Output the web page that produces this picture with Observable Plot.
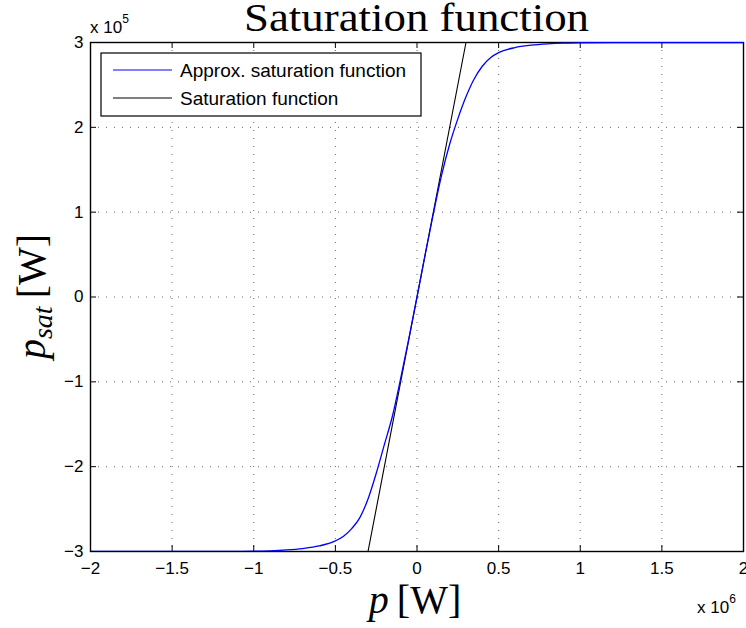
<!DOCTYPE html>
<html>
<head>
<meta charset="utf-8">
<script src="https://cdn.jsdelivr.net/npm/d3@7"></script>
<script src="https://cdn.jsdelivr.net/npm/@observablehq/plot@0.6"></script>
<style>
  html, body { margin: 0; padding: 0; background: #fff; }
  #chart svg { display: block; }
</style>
</head>
<body>
<div id="chart"></div>
<script>
// p in units of 10^6 W, p_sat in units of 10^5 W
const xTicks = [-2, -1.5, -1, -0.5, 0, 0.5, 1, 1.5, 2];
const xTickLabels = ["\u22122", "\u22121.5", "\u22121", "\u22120.5", "0", "0.5", "1", "1.5", "2"];
const yTicks = [-3, -2, -1, 0, 1, 2, 3];
const yTickLabels = ["\u22123", "\u22122", "\u22121", "0", "1", "2", "3"];

// Approx. saturation function (blue)
const pApprox = [-2, -1.5, -1.2, -1.0, -0.9, -0.8, -0.7, -0.6, -0.5, -0.45, -0.4, -0.35, -0.3, -0.25, -0.2, -0.15, -0.1, -0.05,
                 0, 0.05, 0.1, 0.15, 0.2, 0.25, 0.3, 0.35, 0.4, 0.45, 0.5, 0.6, 0.7, 0.8, 0.9, 1.0, 1.2, 1.5, 2];
const psatApprox = [-3, -3, -2.999, -2.997, -2.992, -2.982, -2.965, -2.935, -2.875, -2.82, -2.73, -2.60, -2.38, -2.08, -1.74, -1.40, -0.96, -0.49,
                    0, 0.5, 0.98, 1.43, 1.80, 2.10, 2.36, 2.57, 2.72, 2.82, 2.88, 2.94, 2.968, 2.984, 2.993, 2.997, 3.0, 3.0, 3.0];

// Saturation function (black)
const pSat = [-2, -0.3, 0.3, 2];
const psatSat = [-3, -3, 3, 3];

const seriesNames = ["Approx. saturation function", "Saturation function"];
const seriesColors = ["#0000ff", "#000000"];

const approx = pApprox.map((p, i) => ({p, v: psatApprox[i]}));
const sat = pSat.map((p, i) => ({p, v: psatSat[i]}));

const W = 746, H = 628;
const mL = 90, mR = 3, mT = 42, mB = 77;
const frameW = W - mL - mR, frameH = H - mT - mB;
const tickLen = 6;
const gridStyle = {stroke: "#666", strokeOpacity: 1, strokeWidth: 1, strokeDasharray: "1,7"};

const chart = Plot.plot({
  width: W, height: H,
  marginLeft: mL, marginRight: mR, marginTop: mT, marginBottom: mB,
  x: {domain: [-2, 2]},
  y: {domain: [-3, 3]},
  style: {fontFamily: "'Liberation Sans', Arial, sans-serif", background: "#fff", color: "#000", overflow: "visible"},
  marks: [
    Plot.gridX(xTicks.slice(1, -1), gridStyle),
    Plot.gridY(yTicks.slice(1, -1), gridStyle),
    Plot.axisX(xTicks, {tickSize: 0, tickPadding: 10, fontSize: 17, label: null,
      tickFormat: d => xTickLabels[xTicks.indexOf(d)]}),
    Plot.axisY(yTicks, {tickSize: 0, tickPadding: 7, fontSize: 17, label: null,
      tickFormat: d => yTickLabels[yTicks.indexOf(d)]}),
    Plot.tickX(xTicks, {x: d => d, insetTop: frameH - tickLen, stroke: "#000"}),
    Plot.tickX(xTicks, {x: d => d, insetBottom: frameH - tickLen, stroke: "#000"}),
    Plot.tickY(yTicks, {y: d => d, insetLeft: frameW - tickLen, stroke: "#000"}),
    Plot.tickY(yTicks, {y: d => d, insetRight: frameW - tickLen, stroke: "#000"}),
    Plot.frame({stroke: "#000", strokeWidth: 1.4}),
    Plot.line(sat, {x: "p", y: "v", stroke: seriesColors[1], strokeWidth: 1.1, clip: true}),
    Plot.line(approx, {x: "p", y: "v", stroke: seriesColors[0], strokeWidth: 1.3, curve: "monotone-x", clip: true})
  ]
});

document.getElementById("chart").append(chart);

const svg = d3.select(chart);
const serif = "'Liberation Serif', 'Times New Roman', serif";
const sans = "'Liberation Sans', Arial, sans-serif";

// Title
svg.append("text")
  .attr("x", mL + frameW / 2).attr("y", 31)
  .attr("text-anchor", "middle")
  .attr("font-family", serif).attr("font-size", 40)
  .attr("textLength", 345).attr("lengthAdjust", "spacingAndGlyphs")
  .attr("fill", "#000")
  .text("Saturation function");

// Exponent labels
const expY = svg.append("text")
  .attr("x", mL).attr("y", 33).attr("text-anchor", "start")
  .attr("font-family", sans).attr("font-size", 17).attr("fill", "#000");
expY.append("tspan").text("x 10");
expY.append("tspan").attr("font-size", 12).attr("dy", -10).text("5");

const expX = svg.append("text")
  .attr("x", 697).attr("y", 613).attr("text-anchor", "start")
  .attr("font-family", sans).attr("font-size", 17).attr("fill", "#000");
expX.append("tspan").text("x 10");
expX.append("tspan").attr("font-size", 12).attr("dy", -10).text("6");

// X axis label: p [W]
const xl = svg.append("text")
  .attr("x", 415).attr("y", 613)
  .attr("text-anchor", "middle")
  .attr("font-family", serif).attr("font-size", 40).attr("fill", "#000");
xl.append("tspan").attr("font-style", "italic").text("p");
xl.append("tspan").text("\u2009[W]");

// Y axis label: p_sat [W]
const yl = svg.append("text")
  .attr("transform", `translate(45, ${mT + frameH / 2}) rotate(-90)`)
  .attr("text-anchor", "middle")
  .attr("font-family", serif).attr("font-size", 40).attr("fill", "#000");
yl.append("tspan").attr("font-style", "italic").text("p");
yl.append("tspan").attr("font-style", "italic").attr("font-size", 28).attr("dy", 7).text("sat");
yl.append("tspan").attr("dy", -7).text("\u2009[W]");

// Legend
const lg = svg.append("g");
lg.append("rect")
  .attr("x", 101).attr("y", 53).attr("width", 320).attr("height", 63)
  .attr("fill", "#fff").attr("stroke", "#000").attr("stroke-width", 1.2);
seriesNames.forEach((name, i) => {
  const yy = 70 + i * 28;
  lg.append("line").attr("x1", 113).attr("x2", 172).attr("y1", yy).attr("y2", yy)
    .attr("stroke", seriesColors[i]).attr("stroke-width", 1.2);
  lg.append("text").attr("x", 180).attr("y", yy + 7).attr("text-anchor", "start")
    .attr("font-family", sans).attr("font-size", 19).attr("fill", "#000")
    .text(name);
});
</script>
</body>
</html>
